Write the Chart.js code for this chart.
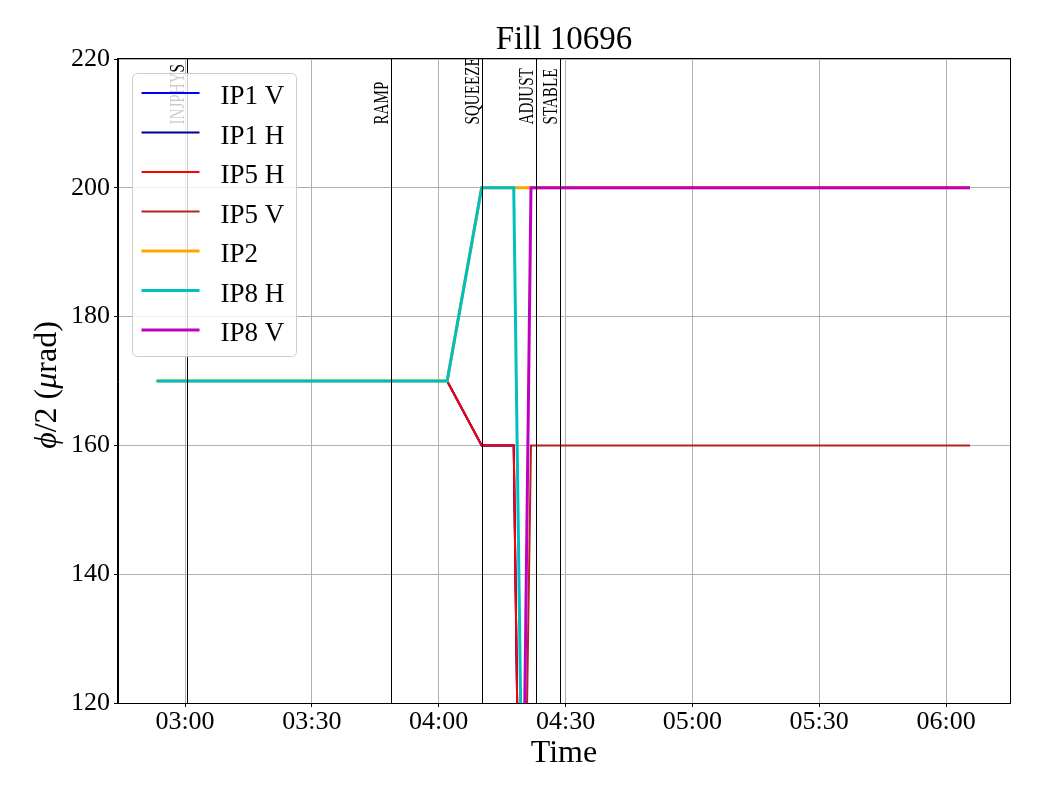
<!DOCTYPE html>
<html>
<head>
<meta charset="utf-8">
<script src="https://cdn.jsdelivr.net/npm/chart.js@4/dist/chart.umd.min.js"></script>
<style>
  body { margin: 0; background: #fff; }
  canvas { display: block; }
</style>
</head>
<body>
<canvas id="chart" width="1040" height="800"></canvas>
<script>
const FONT = "'Liberation Serif', 'Times New Roman', serif";

// series (legend order)
const seriesNames = ['IP1 V', 'IP1 H', 'IP5 H', 'IP5 V', 'IP2', 'IP8 H', 'IP8 V'];
const seriesColors = ['#0000ff', '#00008b', '#ff0000', '#b22222', '#ffa500', '#00bfbf', '#bf00bf'];
const seriesWidths = [2, 2, 2, 2, 3, 3, 3];

// half crossing angle vs time
const beforeTimes = ['02:53:20', '04:02:00', '04:10:10', '04:17:45', '04:19:40'];
const afterTimes = ['04:19:40', '04:21:50', '06:05:40'];
const ip2Times = ['02:53:20', '04:02:00', '04:10:10', '06:05:40'];

const ip1vValues = [170, 170, 160, 160, 66];
const ip1hValues = [170, 170, 160, 160, 66];
const ip5hValues = [170, 170, 160, 160, 66];
const ip5vValues = [66, 160, 160];
const ip2Values = [170, 170, 200, 200];
const ip8hValues = [170, 170, 200, 200, 106];
const ip8vValues = [82, 200, 200];

const seriesTimes = [beforeTimes, beforeTimes, beforeTimes, afterTimes, ip2Times, beforeTimes, afterTimes];
const seriesValues = [ip1vValues, ip1hValues, ip5hValues, ip5vValues, ip2Values, ip8hValues, ip8vValues];

// beam mode markers
const eventNames = ['INJPHYS', 'RAMP', 'SQUEEZE', 'ADJUST', 'STABLE'];
const eventTimes = ['03:00:33', '03:48:48', '04:10:19', '04:23:05', '04:28:46'];

// axes
const xTickLabels = ['03:00', '03:30', '04:00', '04:30', '05:00', '05:30', '06:00'];
const xRange = ['02:44:09', '06:15:08'];
const yTicks = [120, 140, 160, 180, 200, 220];

function toMin(s){
  const [h, m, sec] = s.split(':').map(Number);
  return h * 60 + m + (sec || 0) / 60;
}
const xTickValues = xTickLabels.map(toMin);

const datasets = seriesNames.map((name, i) => ({
  label: name,
  data: seriesTimes[i].map((t, j) => ({ x: toMin(t), y: seriesValues[i][j] })),
  borderColor: seriesColors[i],
  backgroundColor: seriesColors[i],
  borderWidth: seriesWidths[i],
  pointRadius: 0,
  tension: 0,
  fill: false,
  clip: 0,
  order: seriesNames.length - 1 - i
}));

const overlay = {
  id: 'overlay',
  afterDatasetsDraw(chart){
    const { ctx, chartArea: a, scales: { x } } = chart;
    ctx.save();
    ctx.strokeStyle = '#000';
    ctx.lineWidth = 1;
    eventTimes.forEach((t, i) => {
      const px = Math.round(x.getPixelForValue(toMin(t))) + 0.5;
      ctx.beginPath();
      ctx.moveTo(px, a.top);
      ctx.lineTo(px, a.bottom);
      ctx.stroke();
      ctx.save();
      ctx.translate(px - 4, a.top + 65.5);
      ctx.rotate(-Math.PI / 2);
      ctx.scale(0.72, 1);
      ctx.font = `21px ${FONT}`;
      ctx.fillStyle = '#000';
      ctx.textAlign = 'left';
      ctx.textBaseline = 'alphabetic';
      ctx.fillText(eventNames[i], 0, 0);
      ctx.restore();
    });
    // frame
    const l = Math.round(a.left) - 0.5, r = Math.round(a.right) + 0.5;
    const tp = Math.round(a.top) - 0.5, b = Math.round(a.bottom) + 0.5;
    ctx.strokeRect(l, tp, r - l, b - tp);
    ctx.restore();
  },
  afterDraw(chart){
    const { ctx, chartArea: a } = chart;
    ctx.save();
    // legend
    const bx = a.left + 14.5, by = a.top + 14.5, bw = 164, bh = 283, rad = 5;
    ctx.beginPath();
    ctx.moveTo(bx + rad, by);
    ctx.arcTo(bx + bw, by, bx + bw, by + bh, rad);
    ctx.arcTo(bx + bw, by + bh, bx, by + bh, rad);
    ctx.arcTo(bx, by + bh, bx, by, rad);
    ctx.arcTo(bx, by, bx + bw, by, rad);
    ctx.closePath();
    ctx.fillStyle = 'rgba(255,255,255,0.8)';
    ctx.fill();
    ctx.strokeStyle = '#cccccc';
    ctx.lineWidth = 1;
    ctx.stroke();
    ctx.font = `27px ${FONT}`;
    ctx.textAlign = 'left';
    ctx.textBaseline = 'alphabetic';
    chart.data.datasets.forEach((ds, i) => {
      const ly = by + 19.5 + i * 39.5;
      ctx.strokeStyle = ds.borderColor;
      ctx.lineWidth = ds.borderWidth;
      ctx.beginPath();
      ctx.moveTo(bx + 9, ly);
      ctx.lineTo(bx + 67, ly);
      ctx.stroke();
      ctx.fillStyle = '#000';
      ctx.fillText(ds.label, bx + 88, ly + 11);
    });
    // y axis title with italic math symbols
    const parts = [['ϕ', true], ['/2 (', false], ['μ', true], ['rad)', false]];
    ctx.translate(56, (a.top + a.bottom) / 2 + 4);
    ctx.rotate(-Math.PI / 2);
    const widths = parts.map(([s, it]) => {
      ctx.font = `${it ? 'italic ' : ''}32px ${FONT}`;
      return ctx.measureText(s).width;
    });
    let cx = -widths.reduce((p, c) => p + c, 0) / 2;
    ctx.fillStyle = '#000';
    parts.forEach(([s, it], i) => {
      ctx.font = `${it ? 'italic ' : ''}32px ${FONT}`;
      ctx.fillText(s, cx, 0);
      cx += widths[i];
    });
    ctx.restore();
  }
};

new Chart(document.getElementById('chart'), {
  type: 'line',
  data: { datasets },
  plugins: [overlay],
  options: {
    responsive: false,
    animation: false,
    layout: { padding: { left: 0, right: 30, top: 0, bottom: 0 } },
    plugins: {
      legend: { display: false },
      tooltip: { enabled: false },
      title: {
        display: true,
        text: 'Fill 10696',
        fullSize: false,
        color: '#000',
        font: { family: FONT, size: 33, weight: 'normal', lineHeight: 1 },
        padding: { top: 24, bottom: 2 }
      }
    },
    scales: {
      x: {
        type: 'linear',
        min: toMin(xRange[0]),
        max: toMin(xRange[1]),
        afterBuildTicks: (s) => { s.ticks = xTickValues.map(v => ({ value: v })); },
        afterFit: (s) => { s.height = 97; },
        ticks: {
          autoSkip: false,
          maxRotation: 0,
          color: '#000',
          padding: 2,
          font: { family: FONT, size: 26, lineHeight: 1 },
          callback: (v) => xTickLabels[xTickValues.indexOf(v)] ?? ''
        },
        grid: { color: '#b0b0b0', lineWidth: 1, tickColor: '#000', tickLength: 4 },
        border: { color: '#000' },
        title: {
          display: true,
          text: 'Time',
          color: '#000',
          font: { family: FONT, size: 32, lineHeight: 1 },
          padding: { top: 0, bottom: 30 }
        }
      },
      y: {
        min: 120,
        max: 220,
        afterBuildTicks: (s) => { s.ticks = yTicks.map(v => ({ value: v })); },
        afterFit: (s) => { s.width = 118; },
        ticks: {
          color: '#000',
          padding: 4,
          font: { family: FONT, size: 26, lineHeight: 1 }
        },
        grid: { color: '#b0b0b0', lineWidth: 1, tickColor: '#000', tickLength: 4 },
        border: { color: '#000' }
      }
    }
  }
});
</script>
</body>
</html>
